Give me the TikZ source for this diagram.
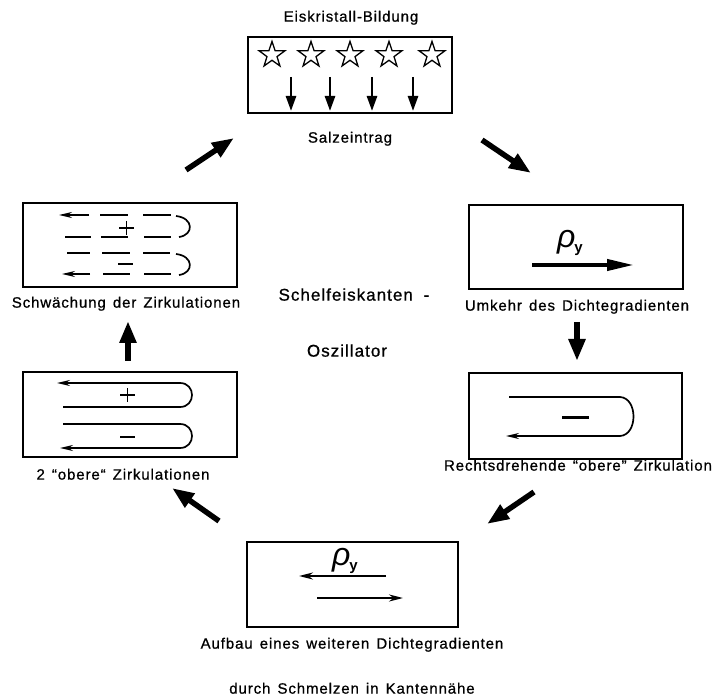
\documentclass[tikz,border=0pt]{standalone}
\usepackage{fontspec}
\setmainfont{Liberation Sans}[LetterSpace=6,WordSpace=1.4,UprightFeatures={FakeBold=0.8}]
\newfontfamily\rhofnt{Liberation Sans}
\newfontfamily\subfnt{Liberation Sans Bold}
\usetikzlibrary{arrows.meta,shapes.geometric}
\tikzset{
  box/.style={draw, line width=1.8pt, inner sep=0, minimum width=#1},
  lbl/.style={inner sep=0, anchor=mid, font=\fontsize{15}{17}\selectfont},
  ctr/.style={inner sep=0, anchor=mid, font=\fontsize{17}{19}\selectfont},
  bigarrow/.style={line width=5.5pt, -{Triangle[length=22pt,width=16pt]}},
  dropar/.style={line width=2.6pt, -{Triangle[length=15pt,width=10pt]}},
  circ/.style={line width=1.7pt, -{Stealth[length=13pt,width=6pt]}},
  dsh/.style={line width=1.7pt},
  sign/.style={line width=1.6pt},
  rhofont/.style={inner sep=0},
  staro/.style={star, star points=5, star point ratio=2.55, draw, line width=1.3pt, minimum size=27pt, inner sep=0}
}
\newcommand{\rhoy}{{\rhofnt\itshape\fontsize{32}{34}\selectfont ρ}\kern-1pt\raisebox{-5pt}{\subfnt\fontsize{15}{16}\selectfont y}}
\begin{document}
\begin{tikzpicture}[x=1pt,y=-1pt]
\useasboundingbox (0,0) rectangle (720,700);
% boxes
\node[box=204pt, minimum height=76pt] (top) at (350,75) {};
\node[box=214pt, minimum height=84pt] (rt) at (576,247) {};
\node[box=213pt, minimum height=86pt] (rb) at (575.5,416) {};
\node[box=211pt, minimum height=85pt] (bot) at (352.5,584.5) {};
\node[box=214pt, minimum height=84pt] (lt) at (130,245) {};
\node[box=214pt, minimum height=85pt] (lb) at (130,414.5) {};
% labels
\node[lbl] (t1) at (351,19) {Eiskristall-Bildung};
\node[lbl] (t2) at (350,140) {Salzeintrag};
\node[lbl] (t3) at (577,308) {Umkehr des Dichtegradienten};
\node[lbl] (t4) at (578,468) {Rechtsdrehende “obere” Zirkulation};
\node[lbl] (t5) at (352,646) {Aufbau eines weiteren Dichtegradienten};
\node[lbl] (t6) at (352,691) {durch Schmelzen in Kantennähe};
\node[lbl] (t7) at (123,477) {2 “obere“ Zirkulationen};
\node[lbl] (t8) at (126,305) {Schwächung der Zirkulationen};
\node[ctr] (c1) at (354,298) {Schelfeiskanten \,-};
\node[ctr] (c2) at (347,354) {Oszillator};
% top box: stars and drops
\foreach \x/\n in {272/1,311/2,350/3,389/4,432/5}{
  \node[staro] (s\n) at (\x,55) {};
}
\foreach \x/\n in {291/1,330/2,372/3,413/4}{
  \coordinate (da\n) at (\x,77);
  \coordinate (db\n) at (\x,111);
  \draw[dropar] (da\n) -- (db\n);
}
% right top box
\node[rhofont] (rho1) at (570,243) {\rhoy};
\coordinate (g1a) at (532,265);
\coordinate (g1b) at (634,265);
\draw[line width=4pt, -{Triangle[length=27pt,width=11pt]}] (g1a) -- (g1b);
% right bottom box
\coordinate (rc1) at (509,397);
\coordinate (rc2) at (620,397);
\coordinate (rc3) at (620,436);
\coordinate (rc4) at (506,436);
\draw[circ] (rc1) -- (rc2) .. controls (638,398) and (638,435) .. (rc3) -- (rc4);
\coordinate (rm1) at (562,417);
\coordinate (rm2) at (589,417);
\draw[line width=3pt] (rm1) -- (rm2);
% bottom box
\node[rhofont] (rho2) at (345,561) {\rhoy};
\coordinate (ba1) at (386,576);
\coordinate (ba2) at (299,576);
\coordinate (bb1) at (317,598);
\coordinate (bb2) at (403,598);
\draw[line width=2pt, -{Stealth[length=14pt,width=7pt]}] (ba1) -- (ba2);
\draw[line width=2pt, -{Stealth[length=14pt,width=7pt]}] (bb1) -- (bb2);
% left bottom box: two circulations
\coordinate (u1) at (63,407);
\coordinate (u2) at (180,407);
\coordinate (u3) at (180,383);
\coordinate (u4) at (57,383);
\draw[circ] (u1) -- (u2) .. controls (196,407) and (196,383) .. (u3) -- (u4);
\coordinate (l1) at (63,424);
\coordinate (l2) at (180,424);
\coordinate (l3) at (180,448);
\coordinate (l4) at (60,448);
\draw[circ] (l1) -- (l2) .. controls (196,424) and (196,448) .. (l3) -- (l4);
\coordinate (pa) at (120,395);
\coordinate (pb) at (135,395);
\coordinate (pc) at (127.5,388);
\coordinate (pd) at (127.5,402);
\draw[sign] (pa) -- (pb) (pc) -- (pd);
\coordinate (ma) at (120,437);
\coordinate (mb) at (135,437);
\draw[line width=2pt] (ma) -- (mb);
% left top box: weakened (dashed) circulations
\coordinate (d11) at (89,215);
\coordinate (d12) at (59,215);
\draw[circ] (d11) -- (d12);
\draw[dsh] (100,215) -- (128,215) (143,215) -- (171,215);
\draw[dsh] (65,237) -- (91,237) (101,237) -- (128,237) (144,237) -- (171,237);
\draw[dsh] (176,216) .. controls (194,218) and (194,235) .. (179,237);
\draw[dsh] (67,253) -- (90,253) (102,253) -- (130,253) (143,253) -- (170,253);
\draw[dsh] (176,254) .. controls (194,256) and (194,273) .. (179,275);
\coordinate (d41) at (90,274);
\coordinate (d42) at (62,274);
\draw[circ] (d41) -- (d42);
\draw[dsh] (103,274) -- (130,274) (144,274) -- (171,274);
\coordinate (qa) at (119,228);
\coordinate (qb) at (134,228);
\coordinate (qc) at (126.5,221);
\coordinate (qd) at (126.5,235);
\draw[sign] (qa) -- (qb) (qc) -- (qd);
\coordinate (na) at (118,264);
\coordinate (nb) at (133,264);
\draw[line width=2pt] (na) -- (nb);
% cycle arrows
\coordinate (a1s) at (186,170); \coordinate (a1e) at (234,138);
\coordinate (a2s) at (482,140); \coordinate (a2e) at (531,173);
\coordinate (a3s) at (577,322); \coordinate (a3e) at (577,361);
\coordinate (a4s) at (534,492); \coordinate (a4e) at (487,524);
\coordinate (a5s) at (219,521); \coordinate (a5e) at (172,488);
\coordinate (a6s) at (128,361); \coordinate (a6e) at (128,321);
\draw[bigarrow] (a1s) -- (a1e);
\draw[bigarrow] (a2s) -- (a2e);
\draw[bigarrow] (a3s) -- (a3e);
\draw[bigarrow] (a4s) -- (a4e);
\draw[bigarrow] (a5s) -- (a5e);
\draw[bigarrow] (a6s) -- (a6e);
\end{tikzpicture}
\end{document}
